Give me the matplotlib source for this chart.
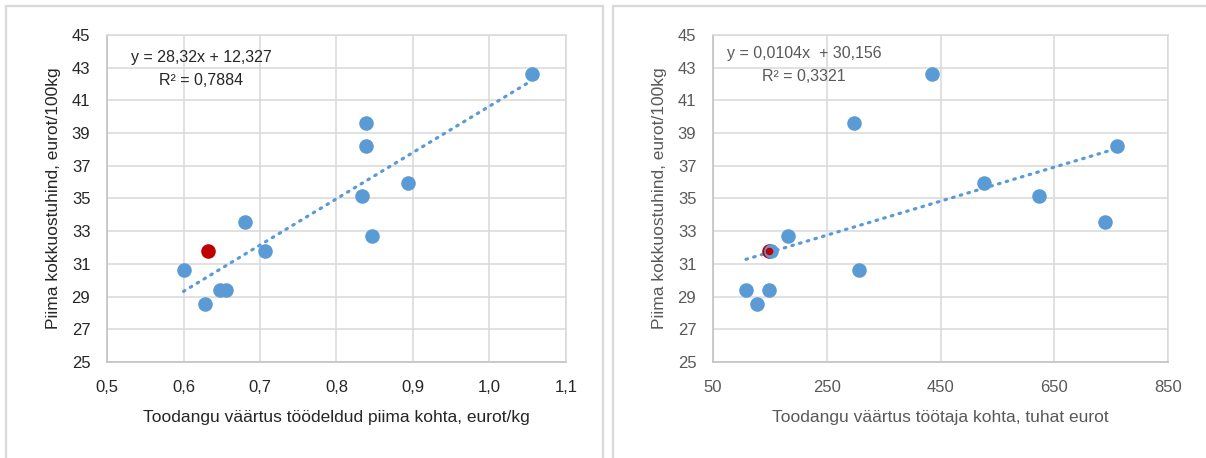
import matplotlib

matplotlib.use("Agg")

import matplotlib.pyplot as plt
import numpy as np
from matplotlib.patches import Rectangle
from matplotlib.ticker import FixedLocator, FuncFormatter

# Andmed: piima kokkuostuhind (y) ja kaks tootlikkuse näitajat (x)
Y_VALUES = [42.62, 39.60, 38.22, 35.94, 35.14, 33.57, 32.72, 31.76, 30.60, 29.40, 29.40, 28.56]
X_PER_KG = [1.055, 0.838, 0.838, 0.893, 0.833, 0.681, 0.846, 0.706, 0.600, 0.648, 0.655, 0.628]
X_PER_WORKER = [434.7, 297.5, 761.0, 526.0, 622.7, 740.0, 182.5, 152.0, 306.0, 108.0, 148.7, 127.8]

# Esiletõstetud ettevõte (punane punkt)
HIGHLIGHT_Y = 31.76
HIGHLIGHT_X_PER_KG = 0.632
HIGHLIGHT_X_PER_WORKER = 148.0

# Trendijoonte kordajad (nagu Exceli joonisel)
TREND_LEFT = (28.32, 12.327)
TREND_RIGHT = (0.0104, 30.156)
EQ_LEFT = "y = 28,32x + 12,327\nR² = 0,7884"
EQ_RIGHT = "y = 0,0104x  + 30,156\nR² = 0,3321"

# Telgede jaotised
Y_TICKS = [25, 27, 29, 31, 33, 35, 37, 39, 41, 43, 45]
X_TICKS_LEFT = [0.5, 0.6, 0.7, 0.8, 0.9, 1.0, 1.1]
X_TICKS_RIGHT = [50, 250, 450, 650, 850]

Y_LABEL = "Piima kokkuostuhind, eurot/100kg"
X_LABEL_LEFT = "Toodangu väärtus töödeldud piima kohta, eurot/kg"
X_LABEL_RIGHT = "Toodangu väärtus töötaja kohta, tuhat eurot"

BLUE = "#5B9BD5"
RED = "#C00000"
GRID = "#D9D9D9"
AXIS = "#BFBFBF"
FONT = ["Liberation Sans", "DejaVu Sans"]

plt.rcParams["font.family"] = FONT


def comma(fmt):
    return FuncFormatter(lambda v, _: fmt.format(v).replace(".", ","))


def style_axis(ax, text_color):
    ax.set_ylim(Y_TICKS[0], Y_TICKS[-1])
    ax.yaxis.set_major_locator(FixedLocator(Y_TICKS))
    ax.grid(True, color=GRID, linewidth=1.1)
    ax.set_axisbelow(True)
    for name, spine in ax.spines.items():
        spine.set_color(AXIS if name in ("left", "bottom") else GRID)
        spine.set_linewidth(1.1)
    ax.tick_params(length=0, labelsize=12, colors=text_color)
    ax.tick_params(axis="x", pad=13)
    ax.tick_params(axis="y", pad=12)


def draw_panel(ax, xs, hx, trend, xticks, xfmt, xlabel, text_color, eq_pos, eq_label,
               red_below=False):
    slope, intercept = trend
    ax.set_xlim(xticks[0], xticks[-1])
    ax.xaxis.set_major_locator(FixedLocator(xticks))
    ax.xaxis.set_major_formatter(comma(xfmt))
    style_axis(ax, text_color)

    tx = np.array([min(xs), max(xs)])
    ax.plot(tx, slope * tx + intercept, color=BLUE, linewidth=2.3,
            linestyle=(0, (0.5, 2.0)), dash_capstyle="round", zorder=2)
    # paremal joonisel jääb punane punkt osaliselt sinise alla
    ax.scatter([hx], [HIGHLIGHT_Y], s=110, color=RED, linewidths=0,
               zorder=2.5 if red_below else 4)
    ax.scatter(xs, Y_VALUES, s=110, color=BLUE, linewidths=0, zorder=3)
    if red_below:
        ax.scatter([hx], [HIGHLIGHT_Y], s=30, color=RED, linewidths=0, zorder=4)

    ax.set_xlabel(xlabel, fontsize=12.5, color=text_color)
    ax.set_ylabel(Y_LABEL, fontsize=12.5, color=text_color)
    ax.xaxis.set_label_coords(0.5, -0.147)
    ax.yaxis.set_label_coords(-0.101, 0.5)
    ax.text(eq_pos[0], eq_pos[1], eq_label, transform=ax.transAxes,
            ha="center", va="center", fontsize=11.5, color=text_color,
            linespacing=1.65)


fig = plt.figure(figsize=(12.06, 4.58), dpi=100)

ax_left = fig.add_axes([107 / 1206, 1 - 362 / 458, 459 / 1206, 327 / 458])
ax_right = fig.add_axes([713 / 1206, 1 - 362 / 458, 455 / 1206, 327 / 458])

draw_panel(ax_left, X_PER_KG, HIGHLIGHT_X_PER_KG, TREND_LEFT, X_TICKS_LEFT, "{:.1f}",
           X_LABEL_LEFT, "#262626", (0.206, 0.897), EQ_LEFT)
draw_panel(ax_right, X_PER_WORKER, HIGHLIGHT_X_PER_WORKER, TREND_RIGHT, X_TICKS_RIGHT, "{:.0f}",
           X_LABEL_RIGHT, "#595959", (0.2, 0.908), EQ_RIGHT, red_below=True)

# paneelide piirjooned
fig.patches.append(Rectangle((6 / 1206, -0.05), 597 / 1206, 1.05 - 6 / 458,
                             transform=fig.transFigure, fill=False,
                             edgecolor=GRID, linewidth=1.6))
fig.patches.append(Rectangle((613 / 1206, -0.05), 0.6, 1.05 - 6 / 458,
                             transform=fig.transFigure, fill=False,
                             edgecolor=GRID, linewidth=1.6))

fig.savefig("out.png", dpi=100, facecolor="white")
